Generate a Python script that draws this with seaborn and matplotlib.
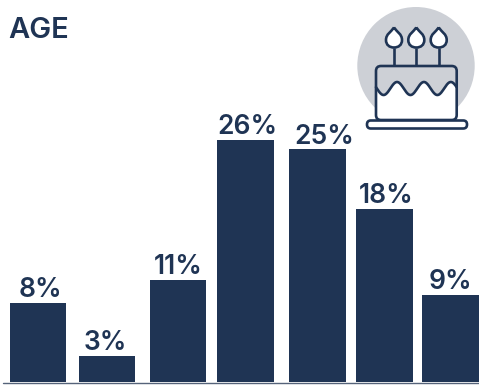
import numpy as np
import pandas as pd
import matplotlib
matplotlib.use("Agg")
import matplotlib.pyplot as plt
from matplotlib.patches import Circle, FancyBboxPatch, PathPatch
from matplotlib.path import Path
import seaborn as sns

categories = ["A1", "A2", "A3", "A4", "A5", "A6", "A7"]
bar_values = [8.5, 2.8, 11.0, 26.0, 25.0, 18.6, 9.4]
labels = ["8%", "3%", "11%", "26%", "25%", "18%", "9%"]
title = "AGE"

NAVY = "#1f3454"
W, H = 479, 390
sns.set_theme(style="white")
plt.rcParams["font.family"] = ["Inter", "DejaVu Sans"]

fig = plt.figure(figsize=(W / 100, H / 100), dpi=100, facecolor="white")
ax = fig.add_axes([0, (H - 382) / H, 1, 382 / H])
df = pd.DataFrame({"group": categories, "share": bar_values})
sns.barplot(data=df, x="group", y="share", color=NAVY, saturation=1, width=0.82, ax=ax)

# pixel layout of the bars (the original is not evenly spaced)
px_left = [10, 79, 150, 217, 289, 356, 422]
px_width = [56, 56, 56, 57, 57, 57, 57]
px_label = [40.5, 105.5, 178.5, 247.5, 324.5, 386.5, 450]
ax.set_xlim(0, W)
ax.set_ylim(0, 382 / 9.3)
for p, l, w, cx, lab in zip(ax.patches, px_left, px_width, px_label, labels):
    p.set_x(l)
    p.set_width(w)
    p.set_edgecolor("none")
    ax.text(cx, p.get_height() + 0.62, lab, ha="center", va="baseline",
            fontsize=19, color=NAVY, fontweight="semibold")
ax.axis("off")

# canvas in pixel coordinates for title, baseline and icon
ov = fig.add_axes([0, 0, 1, 1], zorder=5)
ov.set_xlim(0, W)
ov.set_ylim(H, 0)
ov.axis("off")
ov.patch.set_alpha(0)
ov.plot([3, 479], [382.5, 382.5], color="#55637a", lw=1, zorder=0)
ov.text(8, 38, title, fontsize=21, fontweight="semibold", color=NAVY, ha="left", va="baseline")

lw = 1.9
ov.add_patch(Circle((416, 65.7), 58.7, fc="#cdd0d6", ec="none", zorder=1))
# cake fill lower part (white below the wave)
xw = np.linspace(376, 456.7, 200)
yw = 88.5 + 6.5 * np.sin((xw - 376) / 80.7 * 2 * np.pi * 3.0 - 0.2)
ov.fill_between(xw, yw, 120, color="white", zorder=2)
ov.plot(xw, yw, color=NAVY, lw=lw, zorder=3)
ov.add_patch(FancyBboxPatch((376, 66), 80.7, 54, boxstyle="round,pad=0,rounding_size=5",
                            fc="none", ec=NAVY, lw=lw, zorder=3))
ov.add_patch(FancyBboxPatch((367, 120.5), 100, 8, boxstyle="round,pad=0,rounding_size=3.8",
                            fc="white", ec=NAVY, lw=lw, zorder=4))
for cx in (394, 416.3, 438.7):
    ov.plot([cx, cx], [47.5, 66], color=NAVY, lw=lw, zorder=3, solid_capstyle="butt")
    verts = [(cx, 27.5), (cx + 3, 32), (cx + 8, 34), (cx + 8, 40),
             (cx + 8, 45), (cx + 4.5, 47.5), (cx, 47.5),
             (cx - 4.5, 47.5), (cx - 8, 45), (cx - 8, 40),
             (cx - 8, 34), (cx - 3, 32), (cx, 27.5)]
    codes = [Path.MOVETO] + [Path.CURVE4] * 12
    ov.add_patch(PathPatch(Path(verts, codes), fc="white", ec=NAVY, lw=lw, zorder=4))

fig.savefig("out.png", dpi=100, facecolor="white")
